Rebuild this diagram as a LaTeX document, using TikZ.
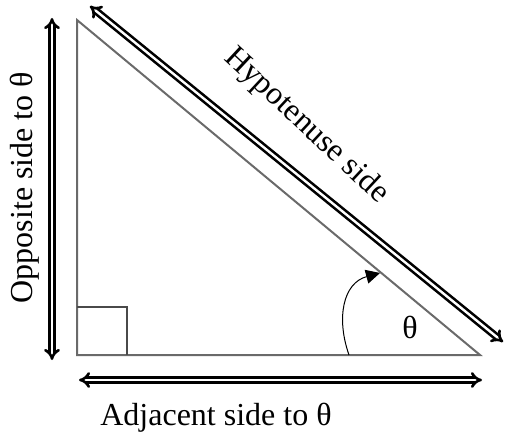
\documentclass[tikz,border=0pt]{standalone}
\usepackage{fontspec}
\setmainfont{Liberation Serif}
\usetikzlibrary{arrows.meta}
\definecolor{edgegray}{HTML}{6A6A6A}
\definecolor{sqgray}{HTML}{4A4A4A}
\tikzset{
  dblarrow/.style={draw=black, line width=2.6pt, double=white, double distance=2.4pt, {Implies[length=8pt,width=16pt]}-{Implies[length=8pt,width=16pt]}},
  triedge/.style={draw=edgegray, line width=2pt},
  sqedge/.style={draw=sqgray, line width=1.5pt},
  lbl/.style={font=\fontsize{32}{36}\selectfont, inner sep=0pt},
}
\begin{document}
\begin{tikzpicture}[x=1pt,y=-1pt]
\useasboundingbox (0,0) rectangle (505,435);
% triangle vertices
\coordinate (T) at (77,20);
\coordinate (B) at (77,355);
\coordinate (R) at (480,355);
\draw[triedge] (T) -- (B) -- (R) -- cycle;
% right-angle square
\coordinate (S1) at (77,307);
\coordinate (S2) at (127,307);
\coordinate (S3) at (127,355);
\draw[sqedge] (S1) -- (S2) -- (S3);
% double arrows
\coordinate (L1) at (52,18);
\coordinate (L2) at (52,360);
\draw[dblarrow] (L1) -- (L2);
\coordinate (A1) at (79,380);
\coordinate (A2) at (482,380);
\draw[dblarrow] (A1) -- (A2);
\coordinate (H1) at (90,6);
\coordinate (H2) at (503,342);
\draw[dblarrow] (H1) -- (H2);
% angle arc
\coordinate (ArcS) at (349,355);
\coordinate (ArcE) at (380,273);
\draw[line width=1pt, -{Triangle[length=14pt,width=14pt]}] (ArcS) .. controls (336,318) and (343,283) .. (ArcE);
% labels
\node[lbl, anchor=base] (theta) at (410,338) {θ};
\node[lbl, anchor=base] (adj) at (216,425) {Adjacent side to θ};
\node[lbl, anchor=base, rotate=90] (opp) at (32,187.5) {Opposite side to θ};
\node[lbl, rotate=-43] (hyp) at (306,126) {Hypotenuse side};
\end{tikzpicture}
\end{document}
